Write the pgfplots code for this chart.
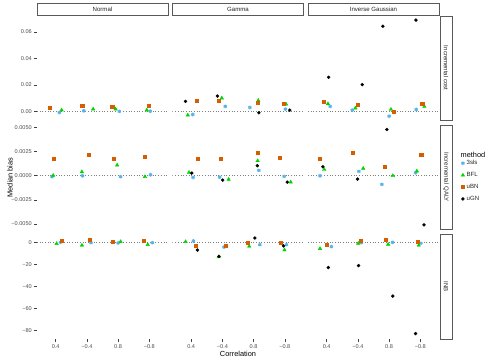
\documentclass[border=0pt]{standalone}
\usepackage{fontspec}
\setmainfont{Liberation Sans}
\usepackage{pgfplots}
\pgfplotsset{compat=1.18}
\usepgfplotslibrary{groupplots}
\usetikzlibrary{calc}
\definecolor{c3sls}{HTML}{56B4E9}
\definecolor{cBFL}{HTML}{00D400}
\definecolor{cuBN}{HTML}{D55E00}
\definecolor{txtgrey}{HTML}{4D4D4D}

\pgfplotsset{
  s3sls/.style={only marks, mark=asterisk, mark size=1.8bp, color=c3sls, mark options={line width=1.1bp}},
  sBFL/.style={only marks, mark=triangle*, mark size=2.0bp, color=cBFL},
  suBN/.style={only marks, mark=square*, mark size=1.55bp, color=cuBN},
  suGN/.style={only marks, mark=*, mark size=1.5bp, color=black},
  zeroline/.style={forget plot, no marks, gray, dotted, line width=0.7bp},
  r1/.style={ymin=-0.00684, ymax=0.0721, ytick={0,0.02,0.04,0.06}, yticklabels={0.00,0.02,0.04,0.06}},
  r2/.style={ymin=-0.0056, ymax=0.00524, ytick={-0.005,-0.0025,0,0.0025,0.005}, yticklabels={−0.0050,−0.0025,0.0000,0.0025,0.0050}},
  r3/.style={ymin=-87.5, ymax=7.5, ytick={-80,-60,-40,-20,0}, yticklabels={−80,−60,−40,−20,0}},
  noy/.style={ytick=\empty},
  nox/.style={xtick=\empty},
}

\begin{document}
\begin{tikzpicture}
\begin{groupplot}[
  group style={group size=3 by 3, horizontal sep=4.5bp, vertical sep=4.7bp},
  width=131bp, height=104.5bp, scale only axis,
  xmin=0.4, xmax=4.6,
  xtick={1,2,3,4}, xticklabels={0.4,−0.4,0.8,−0.8},
  scaled y ticks=false,
  axis line style={draw=none},
  tick align=outside, xtick pos=bottom, ytick pos=left,
  major tick length=2.7bp,
  tick style={draw=black!75, line width=0.5bp},
  ticklabel style={font=\fontsize{5.6}{6}\selectfont, text=txtgrey},
  xticklabel style={yshift=1bp},
  yticklabel style={xshift=1bp},
]
% ---- row 1: incremental cost
\nextgroupplot[r1, nox]
\addplot[zeroline] coordinates {(0.4,0) (4.6,0)};
\addplot[s3sls] coordinates {(1.115,-0.0008) (1.9,0.0005) (3.04,0.0) (4.03,0.0002)};
\addplot[sBFL] coordinates {(1.19,0.0010) (2.2,0.0018) (2.92,0.0018) (3.92,0.0010)};
\addplot[suBN] coordinates {(0.817,0.0030) (1.85,0.0045) (2.81,0.0038) (3.99,0.0043)};

\nextgroupplot[r1, nox, noy]
\addplot[zeroline] coordinates {(0.4,0) (4.6,0)};
\addplot[s3sls] coordinates {(1.05,-0.0023) (2.09,0.0038) (2.88,0.0030) (4.02,0.0018)};
\addplot[sBFL] coordinates {(0.89,-0.0028) (1.98,0.0101) (3.15,0.0083) (4.04,0.0055)};
\addplot[suBN] coordinates {(1.18,0.0083) (1.87,0.0083) (3.12,0.0066) (3.97,0.0060)};
\addplot[suGN] coordinates {(0.817,0.0076) (1.84,0.0116) (3.17,-0.0010) (4.16,0.0010)};

\nextgroupplot[r1, nox, noy]
\addplot[zeroline] coordinates {(0.4,0) (4.6,0)};
\addplot[s3sls] coordinates {(1.11,0.0038) (1.82,0.0010) (3.0,-0.0036) (3.87,0.0015)};
\addplot[sBFL] coordinates {(1.04,0.0058) (1.92,0.0025) (3.06,0.0015) (4.13,0.0038)};
\addplot[suBN] coordinates {(0.90,0.0074) (1.98,0.0051) (3.16,0.0) (4.06,0.0058)};
\addplot[suGN] coordinates {(1.06,0.0258) (2.14,0.0202) (2.80,0.0644) (3.86,0.0690)};

% ---- row 2: incremental QALY
\nextgroupplot[r2, nox]
\addplot[zeroline] coordinates {(0.4,0) (4.6,0)};
\addplot[s3sls] coordinates {(0.88,-0.0001) (1.86,0.0) (3.08,-0.0001) (4.04,0.0001)};
\addplot[sBFL] coordinates {(0.92,0.00003) (1.84,0.0004) (2.97,0.0011) (3.86,-0.0001)};
\addplot[suBN] coordinates {(0.945,0.0018) (2.07,0.0022) (2.85,0.0018) (3.86,0.0020)};

\nextgroupplot[r2, nox, noy]
\addplot[zeroline] coordinates {(0.4,0) (4.6,0)};
\addplot[s3sls] coordinates {(1.06,-0.00018) (1.91,-0.00015) (3.17,0.00055) (3.98,-0.00007)};
\addplot[sBFL] coordinates {(0.93,0.00034) (2.2,-0.00038) (3.13,0.00155) (4.19,-0.00066)};
\addplot[suBN] coordinates {(1.2,0.0018) (1.95,0.0018) (3.12,0.0024) (3.84,0.0019)};
\addplot[suGN] coordinates {(1.02,0.00027) (2.01,-0.00045) (3.12,0.00104) (4.08,-0.00066)};

\nextgroupplot[r2, nox, noy,
  legend style={at={(axis description cs:1,0.5)}, anchor=west, xshift=22bp, yshift=-3.6bp,
    draw=none, fill=none, inner sep=0pt, row sep=2.2bp,
    font=\fontsize{6.1}{7}\selectfont, text=black!85},
  legend cell align=left,
  legend image code/.code={\draw[mark repeat=2,mark phase=2,#1] plot coordinates {(0cm,0cm)(0.1cm,0cm)(0.2cm,0cm)};}]
\addplot[zeroline] coordinates {(0.4,0) (4.6,0)};
\addplot[s3sls] coordinates {(0.785,0.0) (2.03,0.00045) (2.77,-0.0009) (3.85,0.00031)};
\addlegendentry{3sls}
\addplot[sBFL] coordinates {(0.92,0.00065) (2.17,0.00076) (3.12,0.0) (3.89,0.00048)};
\addlegendentry{BFL}
\addplot[suBN] coordinates {(0.785,0.0018) (1.82,0.0024) (2.85,0.00093) (4.03,0.0022)};
\addlegendentry{uBN}
\addplot[suGN] coordinates {(0.88,0.00093) (1.99,-0.00035) (2.93,0.0048) (4.12,-0.0051)};
\addlegendentry{uGN}

% ---- row 3: INB
\nextgroupplot[r3]
\addplot[zeroline] coordinates {(0.4,0) (4.6,0)};
\addplot[s3sls] coordinates {(1.15,0.3) (2.13,0.0) (3.0,-0.3) (4.1,0.0)};
\addplot[sBFL] coordinates {(1.03,-0.9) (1.84,-2.4) (3.08,0.9) (3.95,-1.8)};
\addplot[suBN] coordinates {(1.2,2.1) (2.08,2.4) (2.83,1.2) (3.83,1.8)};

\nextgroupplot[r3, noy]
\addplot[zeroline] coordinates {(0.4,0) (4.6,0)};
\addplot[s3sls] coordinates {(1.07,1.5) (2.05,-4.0) (3.2,-1.8) (4.05,-1.8)};
\addplot[sBFL] coordinates {(0.82,0.9) (1.88,-13.0) (2.86,-3.3) (3.99,-6.7)};
\addplot[suBN] coordinates {(1.15,-2.7) (2.1,-2.7) (2.81,0.0) (3.88,-0.3)};
\addplot[suGN] coordinates {(1.2,-6.7) (1.89,-12.5) (3.04,4.2) (3.96,-3.0)};

\nextgroupplot[r3, noy]
\addplot[zeroline] coordinates {(0.4,0) (4.6,0)};
\addplot[s3sls] coordinates {(1.15,-3.6) (2.11,0.0) (3.11,0.3) (4.02,-0.6)};
\addplot[sBFL] coordinates {(0.785,-5.4) (2.01,-0.6) (2.97,-1.5) (3.95,-2.4)};
\addplot[suBN] coordinates {(0.99,-2.2) (2.08,1.5) (2.9,2.4) (3.92,0.9)};
\addplot[suGN] coordinates {(1.05,-22.6) (2.02,-20.8) (3.12,-48.6) (3.85,-82.7)};
\end{groupplot}

% strips
\foreach \c/\t in {1/Normal,2/Gamma,3/Inverse Gaussian}{
  \draw[draw=black!65, line width=0.6bp, fill=white]
    ($(group c\c r1.north west)+(0,1bp)$) rectangle ($(group c\c r1.north east)+(0,13bp)$);
  \node[font=\fontsize{6.1}{7}\selectfont, text=black!85] at ($(group c\c r1.north)+(0,7bp)$) {\t};
}
\foreach \r/\t in {1/Incremental cost,2/Incremental QALY,3/INB}{
  \draw[draw=black!65, line width=0.6bp, fill=white]
    ($(group c3r\r.north east)+(1bp,0)$) rectangle ($(group c3r\r.south east)+(13bp,0)$);
  \node[font=\fontsize{6.1}{7}\selectfont, text=black!85, rotate=-90] at ($(group c3r\r.east)+(7bp,0)$) {\t};
}
% axis titles and legend title
\node[font=\fontsize{7.4}{8}\selectfont, rotate=90] at ($(group c1r2.west)+(-27bp,0)$) {Median bias};
\node[font=\fontsize{7.4}{8}\selectfont] at ($(group c2r3.south)+(0,-15bp)$) {Correlation};
\node[font=\fontsize{7.4}{8}\selectfont, anchor=west, inner sep=0pt] at ($(group c3r2.east)+(21.5bp,23bp)$) {method};
% page frame
\path ($(group c1r1.north west)+(-37bp,16bp)$) rectangle ++(495bp,-360bp);
\end{tikzpicture}
\end{document}
